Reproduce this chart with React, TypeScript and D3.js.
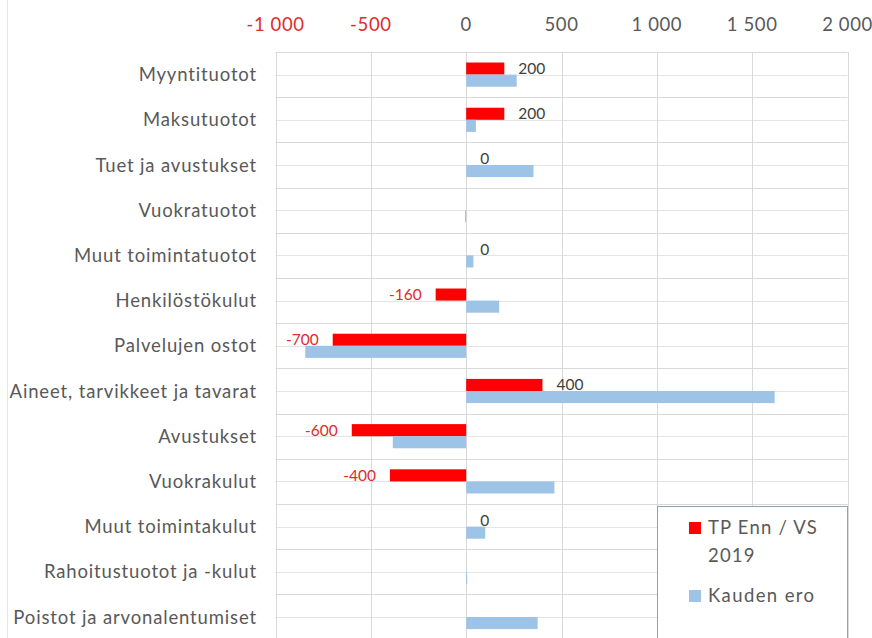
import React from "react";
import * as d3 from "d3";

const categories = [
  "Myyntituotot",
  "Maksutuotot",
  "Tuet ja avustukset",
  "Vuokratuotot",
  "Muut toimintatuotot",
  "Henkilöstökulut",
  "Palvelujen ostot",
  "Aineet, tarvikkeet ja tavarat",
  "Avustukset",
  "Vuokrakulut",
  "Muut toimintakulut",
  "Rahoitustuotot ja -kulut",
  "Poistot ja arvonalentumiset",
];
const tpEnn: (number | null)[] = [200, 200, 0, null, 0, -160, -700, 400, -600, -400, 0, null, null];
const kaudenEro: number[] = [265, 51, 353, -6, 38, 173, -844, 1618, -385, 463, 100, 5, 375];
const xTicks = [-1000, -500, 0, 500, 1000, 1500, 2000];
const legendLines = [["TP Enn / VS", "2019"], ["Kauden ero"]];

const W = 872;
const H = 638;
const FONT = "Lato, 'Noto Sans', sans-serif";
const RED = "#ff0000";
const BLUE = "#9dc3e6";
const GRID = "#d9d9d9";
const NEG = "#e02b2b";
const POS = "#404040";
const TXT = "#595959";

const fi = d3.formatLocale({ thousands: "\u00a0", grouping: [3], decimal: ",", currency: ["", ""], minus: "-" });
const fmt = fi.format(",d");

export default function App() {
  const x = d3.scaleLinear().domain([-1000, 2000]).range([275.5, 847.5]);
  const y = d3.scaleBand<string>().domain(categories).range([52, 52 + 13 * 45.2]).paddingInner(0).paddingOuter(0);
  const bw = y.bandwidth();
  const sub = d3.scaleBand<string>().domain(["a", "b"]).range([0, bw]).paddingInner(0).paddingOuter(0.87);
  const sb = sub.bandwidth();
  const x0 = x(0);

  const hLines: number[] = [];
  categories.forEach((c) => {
    hLines.push(y(c)!);
    hLines.push(y(c)! + bw / 2);
  });

  return (
    <svg width={W} height={H} style={{ position: "absolute", left: 0, top: 0, background: "#fff" }} fontFamily={FONT}>
      <rect x={0} y={0} width={W} height={H} fill="#fff" />
      <line x1={7.5} x2={7.5} y1={0} y2={H} stroke="#e6e6e6" />
      {hLines.map((yy, i) => (
        <line key={"h" + i} x1={x(-1000)} x2={x(2000)} y1={Math.round(yy) + 0.5} y2={Math.round(yy) + 0.5} stroke={i % 2 === 0 ? GRID : "#e4e4e4"} strokeWidth={1} />
      ))}
      {xTicks.map((t) => (
        <line key={"v" + t} x1={Math.round(x(t)) + 0.5} x2={Math.round(x(t)) + 0.5} y1={52} y2={H} stroke={GRID} />
      ))}
      {xTicks.map((t) => (
        <text key={"t" + t} x={x(t)} y={31} textAnchor="middle" fontSize={18.5} letterSpacing={0.6} fill={t < 0 ? NEG : TXT}>
          {fmt(t)}
        </text>
      ))}
      {categories.map((c) => (
        <text key={"c" + c} x={257} y={y(c)! + bw / 2 + 6.5} textAnchor="end" fontSize={18.5} letterSpacing={0.85} fill={TXT}>
          {c}
        </text>
      ))}
      {categories.map((c, i) => {
        const v = tpEnn[i];
        if (v === null) return null;
        return (
          <rect key={"r" + c} x={Math.min(x(v), x0)} y={y(c)! + sub("a")!} width={Math.abs(x(v) - x0)} height={sb} fill={RED} />
        );
      })}
      {categories.map((c, i) => {
        const v = kaudenEro[i];
        return (
          <rect key={"b" + c} x={Math.min(x(v), x0)} y={y(c)! + sub("b")!} width={Math.max(1, Math.abs(x(v) - x0))} height={sb} fill={BLUE} />
        );
      })}
      {categories.map((c, i) => {
        const v = tpEnn[i];
        if (v === null) return null;
        const neg = v < 0;
        return (
          <text
            key={"l" + c}
            x={neg ? x(v) - 14 : x(v) + 14}
            y={y(c)! + sub("a")! + sb / 2 + 5.5}
            textAnchor={neg ? "end" : "start"}
            fontSize={15.5}
            fill={neg ? NEG : POS}
          >
            {fmt(v)}
          </text>
        );
      })}
      <rect x={657.5} y={506.5} width={190} height={150} fill="#fff" stroke="#8da3b6" />
      <rect x={689} y={522} width={12} height={12} fill={RED} />
      <text x={708} y={534} fontSize={18.5} letterSpacing={1.2} fill={TXT}>{legendLines[0][0]}</text>
      <text x={708} y={562} fontSize={18.5} letterSpacing={1.2} fill={TXT}>{legendLines[0][1]}</text>
      <rect x={689} y={590} width={12} height={12} fill={BLUE} />
      <text x={708} y={602} fontSize={18.5} letterSpacing={1.4} fill={TXT}>{legendLines[1][0]}</text>
    </svg>
  );
}
